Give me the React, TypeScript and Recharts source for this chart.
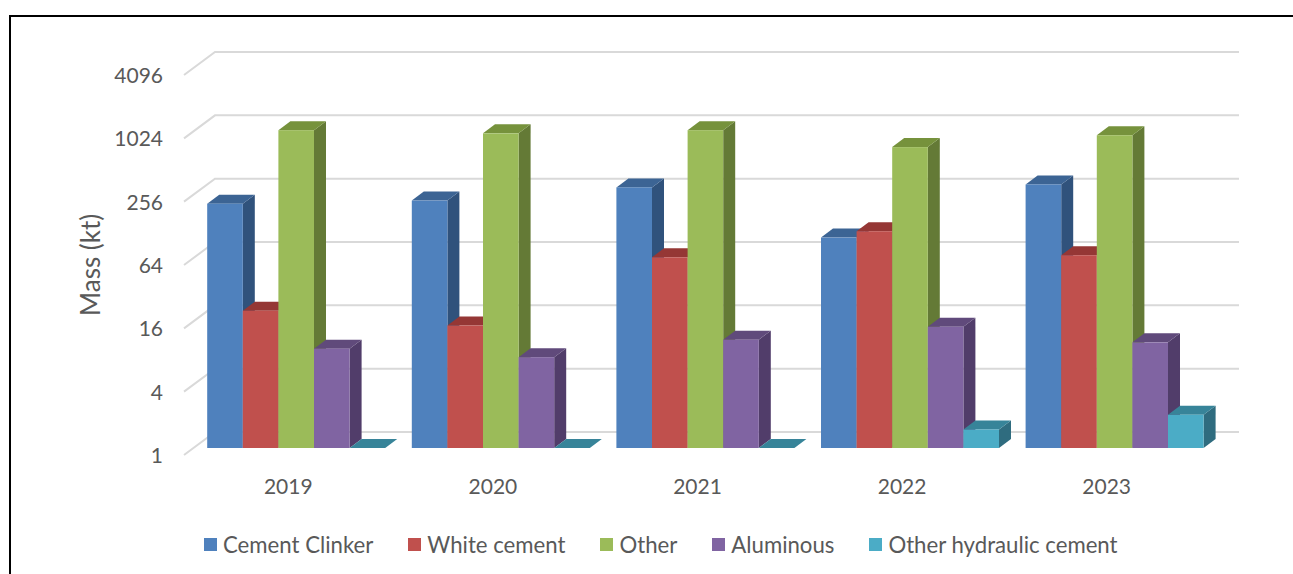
import React from "react";
import {
  BarChart,
  Bar,
  XAxis,
  YAxis,
  CartesianGrid,
  Legend,
} from "recharts";

const years = ["2019", "2020", "2021", "2022", "2023"];
const clinker = [210, 225, 300, 100, 320];
const whiteCement = [20.2, 14.6, 65, 115, 68];
const other = [1050, 980, 1050, 725, 940];
const aluminous = [8.8, 7.3, 10.7, 14.2, 10.1];
const otherHydraulic = [1, 1, 1, 1.5, 2.07];
const yTicks = [1, 4, 16, 64, 256, 1024, 4096];

const chartData = years.map((year, i) => ({
  year,
  clinker: clinker[i],
  whiteCement: whiteCement[i],
  other: other[i],
  aluminous: aluminous[i],
  otherHydraulic: otherHydraulic[i],
}));

const FONT = "Lato, sans-serif";
const TEXT = "#595959";
const DEPTH_X = 12;
const DEPTH_Y = 9;

// one 3d column: front face, lid and right side
const Column = ({ x, y, width, height, fill, lid, side }: any) => {
  const right = x + width;
  const bottom = y + height;
  return (
    <g>
      <path
        d={`M${right},${y} L${right + DEPTH_X},${y - DEPTH_Y} L${right + DEPTH_X},${bottom - DEPTH_Y} L${right},${bottom} Z`}
        fill={side}
      />
      <path
        d={`M${x},${y} L${x + DEPTH_X},${y - DEPTH_Y} L${right + DEPTH_X},${y - DEPTH_Y} L${right},${y} Z`}
        fill={lid}
      />
      <rect x={x} y={y} width={width} height={height} fill={fill} />
    </g>
  );
};

const series = [
  { key: "clinker", name: "Cement Clinker", fill: "#4f81bd", lid: "#3c6494", side: "#30527c" },
  { key: "whiteCement", name: "White cement", fill: "#c0504d", lid: "#953735", side: "#7f2f2d" },
  { key: "other", name: "Other", fill: "#9bbb59", lid: "#76923c", side: "#647a36" },
  { key: "aluminous", name: "Aluminous", fill: "#8064a2", lid: "#604a7b", side: "#513d6a" },
  { key: "otherHydraulic", name: "Other hydraulic cement", fill: "#4bacc6", lid: "#378499", side: "#2f6c7f" },
];

// back wall line plus the diagonal on the left side wall
const WallLine = ({ x1, x2, y1 }: any) => (
  <path
    d={`M${x1 - 10.2},${y1 + 7} L${x1 + 20.8},${y1 - 16} L${x2 + 21.8},${y1 - 16}`}
    fill="none"
    stroke="#d9d9d9"
    strokeWidth={2}
  />
);

const YTick = ({ y, payload }: any) => (
  <text x={163} y={y + 8} dy={7} textAnchor="end" fontFamily={FONT} fontSize={21} fill={TEXT}>
    {payload.value}
  </text>
);

const XTick = ({ x, payload }: any) => (
  <text x={x - 8.2} y={487} dy={7} textAnchor="middle" fontFamily={FONT} fontSize={21} fill={TEXT}>
    {payload.value}
  </text>
);

const LegendRow = ({ payload }: any) => (
  <div style={{ display: "flex", gap: 35, fontFamily: FONT, fontSize: 22.2, color: TEXT, whiteSpace: "nowrap" }}>
    {(payload || []).map((item: any) => (
      <div key={item.value} style={{ display: "flex", alignItems: "center", gap: 6 }}>
        <span style={{ width: 13, height: 13, background: item.color, display: "inline-block" }} />
        {item.value}
      </div>
    ))}
  </div>
);

export default function App() {
  return (
    <div style={{ position: "absolute", left: 0, top: 0, width: 1293, height: 574, overflow: "hidden" }}>
      <div
        style={{
          position: "absolute",
          left: 9,
          top: 15,
          width: 1300,
          height: 600,
          border: "2px solid #000",
        }}
      />
      <BarChart
        width={1293}
        height={574}
        data={chartData}
        barGap={0}
        margin={{ top: 68, right: 75.8, bottom: 86, left: 74.2 }}
      >
        <CartesianGrid vertical={false} horizontal={(props: any) => <WallLine key={props.key} {...props} />} />
        <XAxis
          dataKey="year"
          height={40}
          axisLine={false}
          tickLine={false}
          tick={<XTick />}
          interval={0}
        />
        <YAxis
          width={120}
          scale="log"
          domain={[1, 4096]}
          ticks={yTicks}
          interval={0}
          allowDataOverflow
          axisLine={false}
          tickLine={false}
          tick={<YTick />}
          label={{
            value: "Mass (kt)",
            angle: -90,
            position: "insideLeft",
            dx: 11.5,
            dy: 58,
            style: { fontFamily: FONT, fontSize: 26, fill: TEXT },
          }}
        />
        <Legend
          verticalAlign="middle"
          layout="horizontal"
          align="center"
          itemSorter={null}
          wrapperStyle={{ left: 204, top: 531, width: "auto" }}
          content={<LegendRow />}
        />
        {series.map((s) => (
          <Bar
            key={s.key}
            dataKey={s.key}
            name={s.name}
            fill={s.fill}
            barSize={35.6}
            isAnimationActive={false}
            shape={(props: any) => <Column {...props} lid={s.lid} side={s.side} />}
          />
        ))}
      </BarChart>
    </div>
  );
}
